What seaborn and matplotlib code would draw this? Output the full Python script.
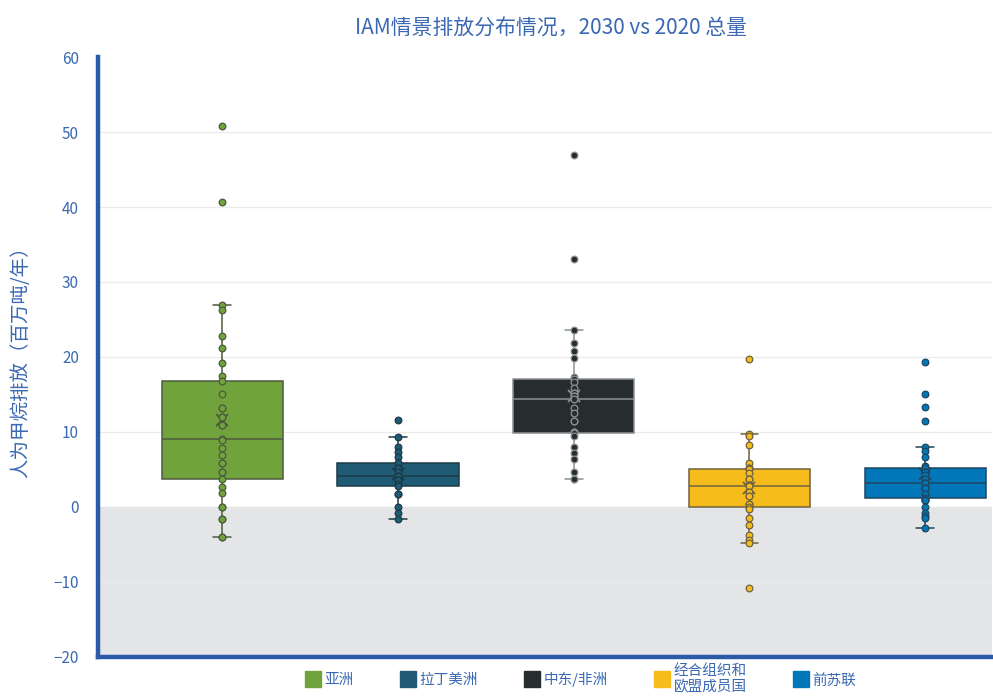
# IAM scenario methane emissions by region, 2030 vs 2020

import pandas as pd
import matplotlib.pyplot as plt
import seaborn as sns
from matplotlib.lines import Line2D


# DATA (scenario values, Mt/yr; repeated values sit on top of each other)

regions = ["亚洲", "拉丁美洲", "中东/非洲", "经合组织和\n欧盟成员国", "前苏联"]

asia = [50.8, 40.7, 26.9, 26.2, 22.8, 21.2, 19.2, 17.5, 16.8, 15.1, 13.2,
        13.2, 12.0, 12.0, 10.9, 10.9, 9.0, 8.9, 7.8, 6.9, 5.9, 5.9, 4.6,
        4.6, 3.7, 2.6, 1.8, 0.0, 0.0, -1.6, -1.6, -4.0, -4.0]
latin_america = [11.6, 9.3, 8.0, 7.3, 6.7, 5.9, 5.9, 5.2, 5.2, 4.6, 4.1,
                 4.1, 3.6, 3.6, 3.0, 2.8, 1.7, 1.7, 0.0, -0.9, -1.7]
middle_east_africa = [47.0, 33.0, 23.6, 21.8, 20.8, 19.8, 17.3, 17.0, 16.6,
                      15.9, 15.2, 15.2, 14.8, 14.8, 14.4, 13.2, 12.5, 11.4,
                      11.4, 10.0, 10.0, 9.8, 9.4, 8.0, 7.2, 6.4, 4.6, 3.7,
                      3.7]
oecd_eu = [19.7, 9.7, 9.4, 8.3, 5.9, 5.2, 5.2, 5.1, 4.5, 3.7, 3.7, 2.9,
           2.9, 2.9, 2.7, 2.0, 2.0, 1.4, 1.4, 0.4, 0.4, 0.0, -0.3, -1.5,
           -2.5, -3.8, -4.5, -4.8, -10.8]
former_ussr = [19.3, 15.1, 13.3, 11.5, 8.0, 7.5, 6.7, 5.5, 5.2, 4.7, 4.7,
               4.7, 4.7, 4.7, 4.3, 3.7, 3.1, 3.1, 3.1, 2.5, 2.5, 2.5, 2.5,
               1.7, 1.2, 0.9, 0.9, 0.9, 0.0, -0.8, -1.2, -1.5, -2.9]

colors = ["#70a33c", "#1f5b74", "#272c2f", "#f5bc1c", "#0176b8"]
edge_colors = ["#4d5a40", "#1c3a47", "#8c9194", "#6f6240", "#1f4660"]

values = [asia, latin_america, middle_east_africa, oecd_eu, former_ussr]

df = pd.DataFrame({
    "region": [r for r, v in zip(regions, values) for _ in v],
    "value": [x for v in values for x in v],
})


# STYLE

sns.set_theme(style="white")
plt.rcParams["font.family"] = ["Noto Sans CJK SC", "DejaVu Sans"]

blue = "#2a5aa8"
label_blue = "#3a68b2"


# PLOT

fig, ax = plt.subplots(figsize=(9.93, 6.97), dpi=100)
fig.subplots_adjust(left=0.099, right=0.999, bottom=0.058, top=0.918)

ax.axhspan(-20, 0, color="#e4e5e7", zorder=0)
for y in range(-10, 60, 10):
    if y != 0:
        ax.axhline(y, color="#ebebeb", lw=1, zorder=0.5)

for i, region in enumerate(regions):
    sub = df[df["region"] == region]

    sns.boxplot(
        data=sub,
        x="region",
        y="value",
        order=regions,
        color=colors[i],
        saturation=1,
        width=0.69,
        linecolor=edge_colors[i],
        linewidth=1.1,
        showfliers=False,
        showmeans=True,
        meanprops=dict(marker="x", markeredgecolor=edge_colors[i],
                       markersize=8, markeredgewidth=1.3),
        capwidths=0.1,
        ax=ax,
        zorder=2,
    )

    sns.stripplot(
        data=sub,
        x="region",
        y="value",
        order=regions,
        color=colors[i],
        edgecolor=edge_colors[i],
        linewidth=0.9,
        size=4.8,
        jitter=False,
        ax=ax,
        zorder=3,
    )

ax.set_xlim(-0.705, 4.38)
ax.set_ylim(-20, 60)
ax.set_yticks(range(-20, 61, 10))
ax.set_xticks([])
ax.set_xlabel("")
ax.tick_params(axis="y", length=0, pad=14, labelsize=11, labelcolor=label_blue)

ax.set_ylabel("人为甲烷排放（百万吨/年）", fontsize=14, color=label_blue, labelpad=16)

for side in ["top", "right"]:
    ax.spines[side].set_visible(False)
for side in ["left", "bottom"]:
    ax.spines[side].set_color(blue)
    ax.spines[side].set_linewidth(3.2)

fig.suptitle("IAM情景排放分布情况，2030 vs 2020 总量",
             x=0.555, y=0.975, fontsize=15, color=label_blue)


# LEGEND

handles = [
    Line2D([0], [0], marker="s", color="w", markerfacecolor=c,
           markeredgecolor=c, markersize=11, label=r)
    for c, r in zip(colors, regions)
]

fig.legend(
    handles=handles,
    loc="center",
    bbox_to_anchor=(0.585, 0.026),
    ncol=5,
    frameon=False,
    fontsize=10.5,
    labelcolor=label_blue,
    handletextpad=0.3,
    handlelength=1.0,
    columnspacing=3.2,
    labelspacing=0.0,
    borderpad=0.0,
)

plt.savefig("out.png", dpi=100)
